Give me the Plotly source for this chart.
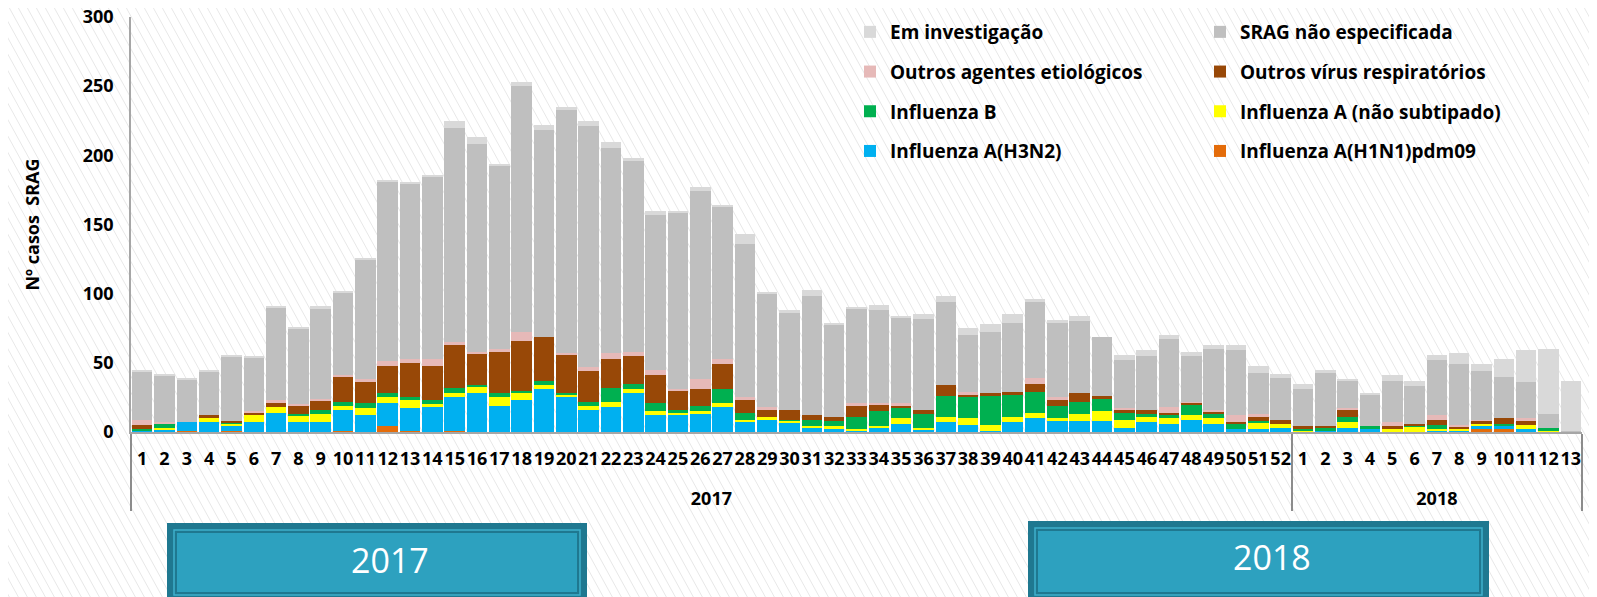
import plotly.graph_objects as go

# ---------------- data ----------------
years = ["<br>2017"] * 52 + ["<br>2018"] * 13
weeks = [str(i) for i in range(1, 53)] + [str(i) for i in range(1, 14)]

h1n1 = [0, 0, 1, 0, 1, 0, 0, 0, 0, 1, 0, 4, 1, 0, 1,
        0, 0, 0, 0, 0, 0, 0, 0, 0, 0, 0, 0, 0, 0, 0, 0, 0, 0, 0, 0, 0, 0,
        0, 0, 0, 0, 0, 0, 0, 0, 0, 0, 0, 0, 0, 0, 0,
        0, 0, 0, 0, 0, 0, 0, 0, 2, 2, 0, 0, 0]
h3n2 = [1, 2, 6, 7, 4, 7, 14, 7, 7, 15,
        12, 17, 16, 18, 24, 28, 19, 23, 31, 26,
        16, 18, 28, 12, 13, 13, 18, 7, 9, 7,
        3, 2, 1, 3, 6, 2, 7, 5, 1, 7,
        10, 8, 8, 8, 3, 7, 6, 9, 6, 2,
        2, 3,
        0, 1, 3, 2, 0, 0, 1, 1, 2, 2, 2, 0, 0]
infa = [0, 1, 0, 3, 1, 5, 4, 5, 6, 3,
        5, 4, 6, 2, 3, 5, 6, 5, 3, 1,
        3, 4, 3, 3, 1, 2, 3, 2, 2, 1,
        1, 2, 1, 1, 4, 1, 4, 5, 4, 4,
        4, 2, 5, 7, 6, 4, 4, 3, 4, 0,
        5, 3,
        1, 0, 4, 0, 2, 4, 1, 1, 2, 0, 3, 1, 0]
infb = [1, 3, 0, 0, 1, 0, 0, 1, 3, 3,
        4, 3, 2, 3, 4, 1, 3, 2, 3, 1,
        3, 10, 4, 6, 2, 4, 10, 5, 0, 1,
        5, 4, 9, 11, 7, 10, 15, 15, 21, 16,
        15, 9, 9, 9, 5, 2, 3, 8, 3, 4,
        1, 0,
        1, 2, 4, 2, 0, 1, 3, 0, 0, 2, 0, 2, 0]
outros_virus = [3, 0, 0, 2, 1, 2, 3, 6, 7, 18,
                15, 20, 25, 25, 31, 23, 30, 36, 32, 28,
                22, 21, 20, 20, 14, 12, 18, 9, 5, 7,
                3, 3, 8, 5, 2, 3, 8, 2, 2, 2,
                6, 4, 6, 2, 2, 3, 1, 1, 2, 1,
                3, 3,
                2, 1, 5, 0, 2, 1, 4, 2, 2, 4, 3, 0, 0]
outros_agentes = [4, 1, 0, 0, 0, 1, 2, 1, 1, 1,
                  2, 3, 3, 5, 2, 1, 2, 6, 0, 1,
                  3, 4, 3, 4, 1, 7, 4, 2, 2, 0,
                  0, 0, 2, 1, 2, 0, 0, 2, 0, 0,
                  4, 2, 0, 0, 1, 0, 4, 1, 1, 5,
                  2, 0,
                  0, 0, 1, 0, 3, 0, 3, 1, 1, 0, 2, 0, 0]
srag_ne = [35, 34, 31, 32, 46, 39, 67, 55, 65, 60,
           87, 130, 126, 131, 155, 150, 132, 178, 149, 176,
           174, 148, 138, 112, 127, 136, 110, 111, 82, 70,
           86, 67, 68, 67, 62, 66, 60, 41, 44, 50,
           55, 54, 52, 43, 35, 39, 49, 33, 44, 47,
           30, 30,
           27, 39, 20, 23, 30, 27, 40, 44, 35, 30, 26, 10, 1]
em_invest = [1, 1, 1, 1, 2, 1, 1, 1, 2, 1,
             1, 1, 2, 2, 5, 5, 2, 3, 4, 2,
             4, 5, 2, 3, 2, 3, 1, 7, 1, 2,
             5, 1, 1, 4, 1, 3, 4, 5, 6, 6,
             2, 2, 4, 0, 4, 4, 3, 3, 3, 4,
             5, 3,
             4, 2, 1, 1, 4, 4, 4, 8, 5, 13, 23, 47, 36]

# (name, values, colour, legend, rank within legend)
series = [
    ("Influenza A(H1N1)pdm09", h1n1, "#E46C0A", "legend2", 4),
    ("Influenza A(H3N2)", h3n2, "#00B0F0", "legend", 4),
    ("Influenza A (não subtipado)", infa, "#FFFF00", "legend2", 3),
    ("Influenza B", infb, "#00B050", "legend", 3),
    ("Outros vírus respiratórios", outros_virus, "#984807", "legend2", 2),
    ("Outros agentes etiológicos", outros_agentes, "#E6B9B8", "legend", 2),
    ("SRAG não especificada", srag_ne, "#BFBFBF", "legend2", 1),
    ("Em investigação", em_invest, "#D9D9D9", "legend", 1),
]

FONT = "Open Sans"

fig = go.Figure()
for name, vals, color, lg, rank in series:
    fig.add_trace(go.Bar(
        x=[years, weeks], y=vals, name=name, legend=lg, legendgroup=name,
        legendrank=rank,
        marker=dict(color=color, line=dict(width=0)),
    ))

# ---------------- geometry helpers (paper coords) ----------------
# the page body adds an 8px offset, so the figure is drawn 8px smaller
OFF = 8
VW, VH = 1597, 597
W, H = VW - OFF, VH - OFF
L, R, T, B = 131 - OFF, 15, 17 - OFF, 165
pw, ph = W - L - R, H - T - B


def px(x):  # x in window pixels -> paper
    return (x - OFF - L) / pw


def py(y):  # y in window pixels -> paper
    return (H - B - (y - OFF)) / ph


# diagonal hatch background
segs = []
x0 = -400.0
while x0 < VW + 10:
    segs.append(f"M{px(x0):.5f},{py(0):.5f}L{px(x0 + 0.55 * VH):.5f},{py(VH):.5f}")
    x0 += 9
shapes = [dict(type="path", xref="paper", yref="paper", path="".join(segs),
               line=dict(color="#E8E8E8", width=1), layer="below")]

# year boxes at the bottom
boxes = [((167, 587, 523), "2017", 390, 560), ((1028, 1489, 521), "2018", 1272, 557)]
annotations = []
for (bx0, bx1, by0), label, tx, ty in boxes:
    shapes.append(dict(type="rect", xref="paper", yref="paper",
                       x0=px(bx0), x1=px(bx1), y0=py(by0), y1=py(VH + 10),
                       fillcolor="#1F7890", line=dict(width=0), layer="above"))
    shapes.append(dict(type="rect", xref="paper", yref="paper",
                       x0=px(bx0 + 7), x1=px(bx1 - 7), y0=py(by0 + 7), y1=py(VH - 2),
                       fillcolor="rgba(0,0,0,0)", line=dict(color="#3FB0CC", width=1.5), layer="above"))
    shapes.append(dict(type="rect", xref="paper", yref="paper",
                       x0=px(bx0 + 9), x1=px(bx1 - 9), y0=py(by0 + 9), y1=py(VH - 4),
                       fillcolor="#2DA1BF", line=dict(color="#1F7890", width=2), layer="above"))
    annotations.append(dict(xref="paper", yref="paper", x=px(tx), y=py(ty),
                            text=label, showarrow=False, xanchor="center", yanchor="middle",
                            font=dict(family=FONT, size=34, color="white")))

legend_common = dict(bgcolor="rgba(0,0,0,0)", orientation="v", traceorder="grouped",
                     tracegroupgap=12, yanchor="top", y=py(13), xanchor="left",
                     font=dict(family=FONT, size=19, color="black", weight="bold"),
                     itemclick=False, itemdoubleclick=False)

fig.update_layout(
    width=W, height=H,
    margin=dict(l=L, r=R, t=T, b=B, autoexpand=False),
    paper_bgcolor="white", plot_bgcolor="rgba(0,0,0,0)",
    barmode="stack", bargap=0.08,
    showlegend=True,
    legend=dict(x=px(850), **legend_common),
    legend2=dict(x=px(1200), **legend_common),
    shapes=shapes,
    annotations=annotations,
    font=dict(family=FONT, color="black"),
    xaxis=dict(type="multicategory", showline=True, linecolor="#A6A6A6", linewidth=1.5,
               showdividers=True, dividercolor="#8C8C8C", dividerwidth=1.5,
               ticks="", tickangle=0, showgrid=False, automargin=False,
               tickmode="linear", tick0=0, dtick=1,
               ticklabelstandoff=10,
               tickfont=dict(family=FONT, size=18, weight="bold", color="black")),
    yaxis=dict(range=[0, 300], tickvals=[0, 50, 100, 150, 200, 250, 300],
               showline=True, linecolor="#A6A6A6", linewidth=1.5, showgrid=False,
               zeroline=False, ticks="", ticklabelstandoff=12, automargin=False,
               ticklabeloverflow="allow",
               tickfont=dict(family=FONT, size=18, weight="bold", color="black"),
               title=dict(text="Nº casos  SRAG", standoff=38,
                          font=dict(family=FONT, size=18, weight="bold", color="black"))),
)

fig.write_html("out.html")
